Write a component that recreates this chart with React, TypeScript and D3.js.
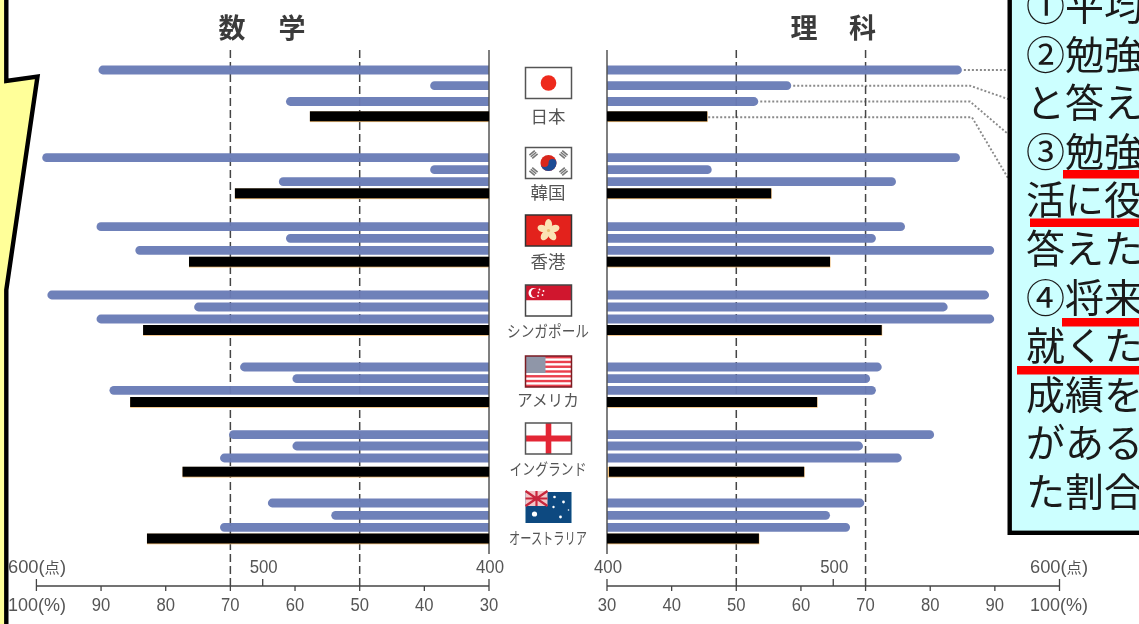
import React from "react";
import * as d3 from "d3";

const W = 1139, H = 624;
const countries = ["日本", "韓国", "香港", "シンガポール", "アメリカ", "イングランド", "オーストラリア"];
const labelWidths = [35, 35, 35, 82, 62, 77, 78];
const labelCentersY = [116.5, 192.5, 261.5, 330.5, 399.5, 469, 538];
const flagTops = [67.5, 147.5, 215, 285, 356, 423, 492];

// values, top to bottom in each country: three blue bars, then the black bar
const mathBar1 = [90.4, 99.1, 90.7, 98.3, 68.5, 70.2, 64.2];
const mathBar2 = [39.1, 39.1, 61.4, 75.6, 60.4, 60.4, 54.4];
const mathBar3 = [61.4, 62.5, 84.7, 90.7, 88.7, 71.6, 71.6];
const mathBlack = [57.7, 69.3, 76.4, 83.5, 85.5, 77.4, 82.9];
const sciBar1 = [84.9, 84.6, 76.1, 89.1, 72.5, 80.6, 69.8];
const sciBar2 = [58.5, 46.2, 71.6, 82.7, 70.7, 69.6, 64.5];
const sciBar3 = [53.4, 74.7, 89.9, 89.9, 71.6, 75.6, 67.6];
const sciBlack = [45.5, 55.4, 64.5, 72.5, 62.5, 60.5, 53.5];

const pctTicks = [30, 40, 50, 60, 70, 80, 90];
const scoreTicks = [400, 500, 600];
const guideTicks = [50, 70];

const calloutLines = ["①平均", "②勉強", "と答え", "③勉強", "活に役", "答えた", "④将来", "就くた", "成績を", "がある", "た割合"];

// layout
const rowY = [
  [70, 85.7, 101.5, 116.3],
  [157.7, 169.7, 181.7, 193.3],
  [226.7, 238.3, 250.3, 261.7],
  [295, 307, 319, 330],
  [367, 378.7, 390.3, 402],
  [434.7, 446, 458, 471.7],
  [503, 515.3, 527.3, 538.5],
];
const xL = d3.scaleLinear().domain([30, 100]).range([489, 36.4]);
const xR = d3.scaleLinear().domain([30, 100]).range([607, 1059.5]);
const sL = d3.scaleLinear().domain([400, 600]).range([489, 36.4]);
const sR = d3.scaleLinear().domain([400, 600]).range([607, 1059.5]);

const BLUE = "#6a7cb6";
const CJK = "'Noto Sans CJK JP', sans-serif";
const NUM = "'Liberation Sans', sans-serif";

function blueBar(x0: number, x1: number, y: number, h = 8.8) {
  const r = h / 2;
  const s = x1 > x0 ? 1 : -1;
  const p = d3.path();
  p.moveTo(x0, y - r);
  p.lineTo(x1 - s * r, y - r);
  p.arc(x1 - s * r, y, r, -Math.PI / 2, Math.PI / 2, s < 0);
  p.lineTo(x0, y + r);
  p.closePath();
  return p.toString();
}

function FlagFrame({ children, stroke = "#555" }: any) {
  return (
    <>
      {children}
      <rect x={0} y={0} width={46} height={31} fill="none" stroke={stroke} strokeWidth={1.5} />
    </>
  );
}

function Star({ x, y, r = 2 }: any) {
  return <circle cx={x} cy={y} r={r} fill="#fff" />;
}

function Flag({ i }: { i: number }) {
  if (i === 0)
    return (
      <FlagFrame>
        <rect width={46} height={31} fill="#fff" />
        <circle cx={23} cy={15.5} r={7.8} fill="#ee2a1e" />
      </FlagFrame>
    );
  if (i === 1)
    return (
      <FlagFrame>
        <rect width={46} height={31} fill="#fff" />
        <circle cx={23} cy={15.5} r={8} fill="#d9281f" />
        <path d="M15 15.5 a8 8 0 0 0 16 0 a4 4 0 0 0 -8 0 a4 4 0 0 1 -8 0z" fill="#1f4b94" />
        {[[8, 7, -40], [38, 7, 40], [8, 24, 40], [38, 24, -40]].map(([x, y, a], k) => (
          <g key={k} transform={`rotate(${a} ${x} ${y})`} fill="#777">
            <rect x={x - 3.5} y={y - 3} width={7} height={1.6} />
            <rect x={x - 3.5} y={y - 0.8} width={7} height={1.6} />
            <rect x={x - 3.5} y={y + 1.4} width={7} height={1.6} />
          </g>
        ))}
      </FlagFrame>
    );
  if (i === 2)
    return (
      <FlagFrame stroke="#333">
        <rect width={46} height={31} fill="#e3221b" />
        {d3.range(5).map((k) => (
          <ellipse key={k} cx={23} cy={9.5} rx={3.6} ry={5.4} fill="#fbe3b4" transform={`rotate(${k * 72} 23 15.5)`} />
        ))}
        <circle cx={23} cy={15.5} r={1.6} fill="#e9c070" />
      </FlagFrame>
    );
  if (i === 3)
    return (
      <FlagFrame stroke="#444">
        <rect width={46} height={15.5} fill="#d0182f" />
        <rect y={15.5} width={46} height={15.5} fill="#fff" />
        <circle cx={8} cy={8} r={5} fill="#fff" />
        <circle cx={10} cy={8} r={4.5} fill="#d0182f" />
        {[[14, 4.5], [18, 6], [17, 10], [12.5, 11], [13, 7.5]].map(([x, y], k) => (
          <Star key={k} x={x} y={y} r={0.9} />
        ))}
      </FlagFrame>
    );
  if (i === 4)
    return (
      <FlagFrame stroke="#7a1a24">
        <rect width={46} height={31} fill="#fff" />
        {d3.range(7).map((k) => (
          <rect key={k} y={k * 4.77} width={46} height={2.4} fill="#ea3f4d" />
        ))}
        <rect width={20} height={17} fill="#8f96a8" />
      </FlagFrame>
    );
  if (i === 5)
    return (
      <FlagFrame>
        <rect width={46} height={31} fill="#fff" />
        <rect x={20.2} width={5.6} height={31} fill="#e32636" />
        <rect y={12.5} width={46} height={6} fill="#e32636" />
      </FlagFrame>
    );
  return (
    <>
      <rect width={46} height={31} fill="#0d4a80" />
      <rect y={-1} width={22} height={15} fill="#f3c6c8" />
      <path d="M0 -1L22 14M22 -1L0 14M11 -1V14M0 6.5H22" stroke="#c8283c" strokeWidth={2.2} />
      {[[9, 22, 2.6], [29, 5, 1.3], [38, 10, 1.4], [28, 15, 1.2], [35, 25, 1.4], [43, 18, 0.8]].map(([x, y, r], k) => (
        <Star key={k} x={x} y={y} r={r} />
      ))}
    </>
  );
}

function Panel({ x, series, black }: { x: any; series: number[][]; black: number[] }) {
  const x0 = x(30);
  return (
    <>
      {guideTicks.map((t) => (
        <line key={t} x1={x(t)} x2={x(t)} y1={50} y2={586} stroke="#444" strokeWidth={1.5} strokeDasharray="8 4" />
      ))}
      {countries.map((_, c) =>
        series.map((s, k) => (
          <path key={`${c}-${k}`} d={blueBar(x0, x(s[c]), rowY[c][k])} fill={BLUE} opacity={0.96} />
        ))
      )}
      {black.map((v, c) => {
        const a = Math.min(x0, x(v));
        return <rect key={c} x={a} width={Math.abs(x(v) - x0) + 0.5} y={rowY[c][3] - 4.8} height={10.6} fill="#f4bf78" />;
      })}
      <line x1={x0} x2={x0} y1={50} y2={554} stroke="#555" strokeWidth={1.5} />
    </>
  );
}

function Axis({ x, s, side }: { x: any; s: any; side: "L" | "R" }) {
  const textProps = {
    fontFamily: NUM,
    fontSize: 18,
    fill: "#555",
    textAnchor: "middle" as const,
    lengthAdjust: "spacingAndGlyphs" as const,
  };
  const unitX = side === "L" ? 8 : 1030;
  return (
    <g stroke="none">
      <line x1={x(30)} x2={x(100)} y1={586} y2={586} stroke="#444" strokeWidth={1.3} />
      {[...pctTicks, 100].map((t) => (
        <line key={t} x1={x(t)} x2={x(t)} y1={586} y2={591} stroke="#444" strokeWidth={1.3} />
      ))}
      {scoreTicks.map((t) => (
        <line key={t} x1={s(t)} x2={s(t)} y1={579} y2={586} stroke="#444" strokeWidth={1.3} />
      ))}
      {pctTicks.map((t) => (
        <text key={t} x={x(t)} y={611} {...textProps} textLength={18.5}>{t}</text>
      ))}
      <text x={unitX} y={611} {...textProps} textAnchor="start" textLength={58}>100(%)</text>
      {scoreTicks.slice(0, 2).map((t) => (
        <text key={t} x={s(t) + 1} y={573} {...textProps} textLength={28}>{t}</text>
      ))}
      <text x={unitX} y={573} {...textProps} textAnchor="start" textLength={58}>
        600(<tspan fontFamily={CJK} fontSize={15}>点</tspan>)
      </text>
    </g>
  );
}

export default function App() {
  const leader = [
    { x: xR(sciBar1[0]) + 2, y: rowY[0][0], mx: 1008, my: 70, ex: 1008, ey: 70 },
    { x: xR(sciBar2[0]) + 2, y: rowY[0][1], mx: 970, my: rowY[0][1], ex: 1008, ey: 99 },
    { x: xR(sciBar3[0]) + 2, y: rowY[0][2], mx: 970, my: rowY[0][2], ex: 1008, ey: 134 },
    { x: xR(sciBlack[0]) + 1, y: rowY[0][3] + 1, mx: 972, my: rowY[0][3] + 1, ex: 1008, ey: 178 },
  ];
  return (
    <svg
      width={W}
      height={H}
      viewBox={`0 0 ${W} ${H}`}
      style={{ position: "absolute", left: 0, top: 0, display: "block", background: "#fff" }}
    >
      <defs>
        <filter id="soft" x="0" y="0" width={W} height={H} filterUnits="userSpaceOnUse">
          <feGaussianBlur stdDeviation={0.55} />
        </filter>
      </defs>
      <g filter="url(#soft)">
        <text x={232} y={38} fontFamily={CJK} fontSize={27} fontWeight={700} fill="#3a3a3a" textAnchor="middle">数</text>
        <text x={292} y={38} fontFamily={CJK} fontSize={27} fontWeight={700} fill="#3a3a3a" textAnchor="middle">学</text>
        <text x={804} y={38} fontFamily={CJK} fontSize={27} fontWeight={700} fill="#3a3a3a" textAnchor="middle">理</text>
        <text x={862.5} y={38} fontFamily={CJK} fontSize={27} fontWeight={700} fill="#3a3a3a" textAnchor="middle">科</text>

        {leader.map((l, k) => (
          <path
            key={k}
            d={`M${l.x} ${l.y}L${l.mx} ${l.my}L${l.ex} ${l.ey}`}
            fill="none"
            stroke="#8a8a8a"
            strokeWidth={1.9}
            strokeDasharray="2 2"
          />
        ))}

        <Panel x={xL} series={[mathBar1, mathBar2, mathBar3]} black={mathBlack} />
        <Panel x={xR} series={[sciBar1, sciBar2, sciBar3]} black={sciBlack} />
        <Axis x={xL} s={sL} side="L" />
        <Axis x={xR} s={sR} side="R" />

        {countries.map((name, i) => (
          <g key={name}>
            <g transform={`translate(525.5 ${flagTops[i]})`}>
              <Flag i={i} />
            </g>
            <text
              x={548 - labelWidths[i] / 2}
              y={labelCentersY[i] + 6}
              fontFamily={CJK}
              fontSize={i < 3 ? 17 : 16}
              fill="#555"
              textLength={labelWidths[i]}
              lengthAdjust="spacingAndGlyphs"
            >
              {name}
            </text>
          </g>
        ))}
      </g>

      {mathBlack.map((v, c) => (
        <rect key={c} x={xL(v)} width={xL(30) - xL(v)} y={rowY[c][3] - 5} height={10} fill="#000" />
      ))}
      {sciBlack.map((v, c) => (
        <rect key={c} x={xR(30) + (c === 5 ? 2 : 0)} width={xR(v) - xR(30) - (c === 5 ? 2 : 0)} y={rowY[c][3] - 5} height={10} fill="#000" />
      ))}

      {/* callout, left */}
      <path d="M6.3 -10L6.3 81L37.5 76.5L6.3 290L6.3 640L-10 640L-10 -10Z" fill="#ffff99" stroke="#000" strokeWidth={4.4} />

      {/* note box, right */}
      <rect x={1009.7} y={-10} width={150} height={542.8} fill="#ccffff" stroke="#000" strokeWidth={4.4} />
      {calloutLines.map((t, i) => (
        <text key={i} x={1026} y={20 + i * 48.6} fontFamily={CJK} fontSize={39} fill="#1a1a1a">{t}</text>
      ))}
      {[[1063, 170], [1030, 218.5], [1062, 318], [1017, 366]].map(([x, y], k) => (
        <rect key={k} x={x} y={y} width={W - x} height={8.5} fill="#ff0000" />
      ))}
    </svg>
  );
}
